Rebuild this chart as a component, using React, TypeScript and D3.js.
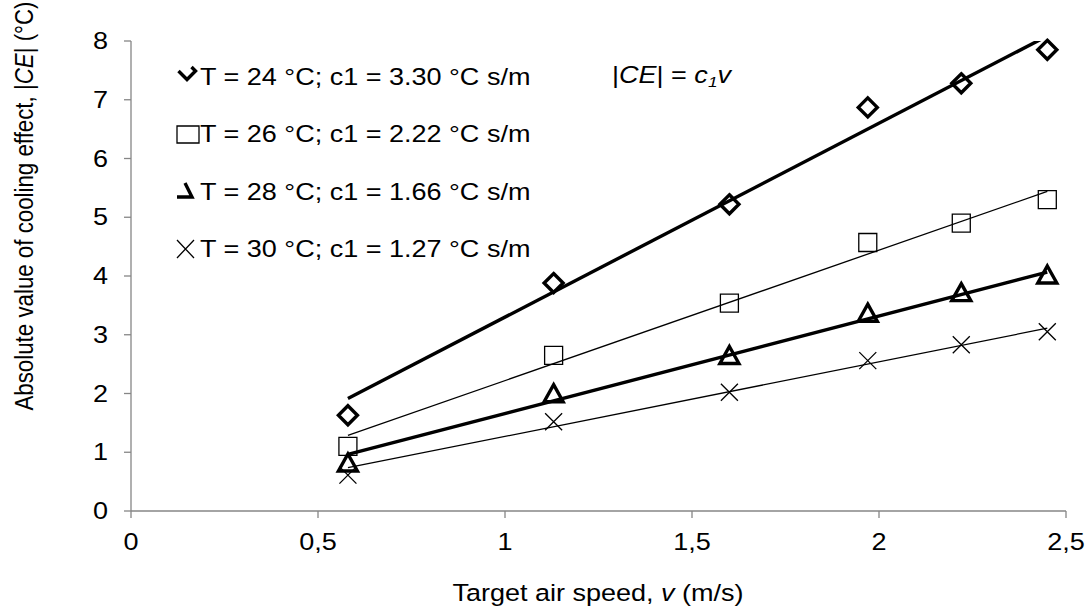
import { useEffect, useRef } from "react";
import * as d3 from "d3";

const speeds = [0.58, 1.13, 1.6, 1.97, 2.22, 2.45];
const ce24 = [1.63, 3.88, 5.22, 6.87, 7.28, 7.85];
const ce26 = [1.1, 2.65, 3.54, 4.57, 4.9, 5.3];
const ce28 = [0.8, 1.98, 2.63, 3.35, 3.7, 4.0];
const ce30 = [0.61, 1.52, 2.02, 2.56, 2.83, 3.05];
const slopes = [3.3, 2.22, 1.66, 1.27];
const legendLabels = [
  "T = 24 °C; c1 = 3.30 °C s/m",
  "T = 26 °C; c1 = 2.22 °C s/m",
  "T = 28 °C; c1 = 1.66 °C s/m",
  "T = 30 °C; c1 = 1.27 °C s/m",
];
const xTicks = [0, 0.5, 1, 1.5, 2, 2.5];
const yTicks = [0, 1, 2, 3, 4, 5, 6, 7, 8];

const W = 1088;
const H = 612;
const FONT = "'Liberation Sans', Arial, sans-serif";
const AXIS = "#868686";
const FS = 23.5;
const SX = 1.15; // the original picture is a bit stretched sideways

const series = [
  { values: ce24, slope: slopes[0], label: legendLabels[0], shape: "diamond", bold: true },
  { values: ce26, slope: slopes[1], label: legendLabels[1], shape: "square", bold: false },
  { values: ce28, slope: slopes[2], label: legendLabels[2], shape: "triangle", bold: true },
  { values: ce30, slope: slopes[3], label: legendLabels[3], shape: "cross", bold: false },
];

function markerPath(shape, cx, cy) {
  if (shape === "diamond") {
    const r = 9.5;
    return `M${cx},${cy - r}L${cx + r},${cy}L${cx},${cy + r}L${cx - r},${cy}Z`;
  }
  if (shape === "square") {
    const r = 9;
    return `M${cx - r},${cy - r}H${cx + r}V${cy + r}H${cx - r}Z`;
  }
  if (shape === "triangle") {
    return `M${cx},${cy - 10}L${cx + 9.5},${cy + 7}L${cx - 9.5},${cy + 7}Z`;
  }
  const r = 8.5;
  return `M${cx - r},${cy - r}L${cx + r},${cy + r}M${cx + r},${cy - r}L${cx - r},${cy + r}`;
}

// legend glyphs are partly cut off in the original
function legendPath(shape, cx, cy) {
  if (shape === "diamond") {
    const r = 8.5;
    return `M${cx - r},${cy}L${cx},${cy + r}L${cx + r},${cy}L${cx + r - 4},${cy - 4}`;
  }
  if (shape === "square") {
    return `M${cx - 11},${cy - 8.5}H${cx + 11}V${cy + 8.5}H${cx - 11}Z`;
  }
  if (shape === "triangle") {
    return `M${cx},${cy - 7}L${cx + 7},${cy + 7}L${cx - 8},${cy + 7}`;
  }
  return `M${cx - 8.5},${cy - 9}L${cx + 8.5},${cy + 9}M${cx + 8.5},${cy - 9}L${cx - 8.5},${cy + 9}`;
}

function stretchedText(g, x, y, anchor, size = FS) {
  return g.append("text")
    .attr("transform", `translate(${x},${y}) scale(${SX},1)`)
    .attr("text-anchor", anchor)
    .attr("font-size", size);
}

export default function App() {
  const ref = useRef(null);

  useEffect(() => {
    const svg = d3.select(ref.current);
    svg.selectAll("*").remove();

    const x = d3.scaleLinear().domain([0, 2.5]).range([131, 1066]);
    const y = d3.scaleLinear().domain([0, 8]).range([511, 41]);

    svg.append("defs")
      .append("clipPath")
      .attr("id", "plot")
      .append("rect")
      .attr("x", x(0))
      .attr("y", y(8))
      .attr("width", x(2.5) - x(0))
      .attr("height", y(0) - y(8));

    // axes
    const ax = svg.append("g").attr("stroke", AXIS).attr("stroke-width", 1.3).attr("fill", "none");
    ax.append("line").attr("x1", x(0)).attr("x2", x(0)).attr("y1", y(8)).attr("y2", y(0));
    ax.append("line").attr("x1", x(0)).attr("x2", x(2.5)).attr("y1", y(0)).attr("y2", y(0));
    yTicks.forEach((t) => {
      ax.append("line").attr("x1", x(0) - 7).attr("x2", x(0)).attr("y1", y(t)).attr("y2", y(t));
    });
    xTicks.forEach((t) => {
      ax.append("line").attr("x1", x(t)).attr("x2", x(t)).attr("y1", y(0)).attr("y2", y(0) + 7);
    });

    yTicks.forEach((t) => {
      stretchedText(svg, 108, y(t) + 8, "end").text(t);
    });
    xTicks.forEach((t) => {
      stretchedText(svg, x(t), y(0) + 39, "middle").text(String(t).replace(".", ","));
    });

    // fitted lines, cut at the top of the plot
    const fits = svg.append("g").attr("clip-path", "url(#plot)");
    series.forEach((s) => {
      const x0 = speeds[0];
      const x1 = speeds[speeds.length - 1];
      fits.append("line")
        .attr("x1", x(x0)).attr("y1", y(s.slope * x0))
        .attr("x2", x(x1)).attr("y2", y(s.slope * x1))
        .attr("stroke", "#000")
        .attr("stroke-width", s.bold ? 3.4 : 1.3);
    });

    // markers
    series.forEach((s) => {
      svg.append("g")
        .selectAll("path")
        .data(s.values)
        .join("path")
        .attr("d", (v, i) => markerPath(s.shape, x(speeds[i]), y(v)))
        .attr("fill", "none")
        .attr("stroke", "#000")
        .attr("stroke-width", s.bold ? 3.4 : 1.3);
    });

    // legend
    const legendX = [187, 188, 185, 185.5];
    const legendY = [71, 134.5, 190, 249];
    series.forEach((s, i) => {
      svg.append("path")
        .attr("d", legendPath(s.shape, legendX[i], legendY[i]))
        .attr("fill", "none")
        .attr("stroke", "#000")
        .attr("stroke-width", s.bold ? 3.4 : 1.3);
      stretchedText(svg, 200, 85 + i * 57.4, "start").text(s.label);
    });

    // equation
    const eq = stretchedText(svg, 612, 83, "start");
    eq.append("tspan").text("|");
    eq.append("tspan").attr("font-style", "italic").text("CE");
    eq.append("tspan").text("| = ");
    eq.append("tspan").attr("font-style", "italic").text("c");
    eq.append("tspan").attr("font-style", "italic").attr("font-size", 15).attr("dy", 4).text("1");
    eq.append("tspan").attr("font-style", "italic").attr("dy", -4).text("v");

    // axis titles
    const yt = svg.append("text")
      .attr("transform", `translate(33,206) rotate(-90) scale(1,${SX})`)
      .attr("text-anchor", "middle")
      .attr("font-size", 22.3);
    yt.append("tspan").text("Absolute value of cooling effect, |");
    yt.append("tspan").attr("font-style", "italic").text("CE");
    yt.append("tspan").text("| (°C)");

    const xt = stretchedText(svg, 598, 601, "middle");
    xt.append("tspan").text("Target air speed, ");
    xt.append("tspan").attr("font-style", "italic").text("v");
    xt.append("tspan").text(" (m/s)");
  }, []);

  return (
    <svg
      ref={ref}
      width={W}
      height={H}
      style={{ position: "absolute", left: 0, top: 0, background: "white", fontFamily: FONT }}
    />
  );
}
